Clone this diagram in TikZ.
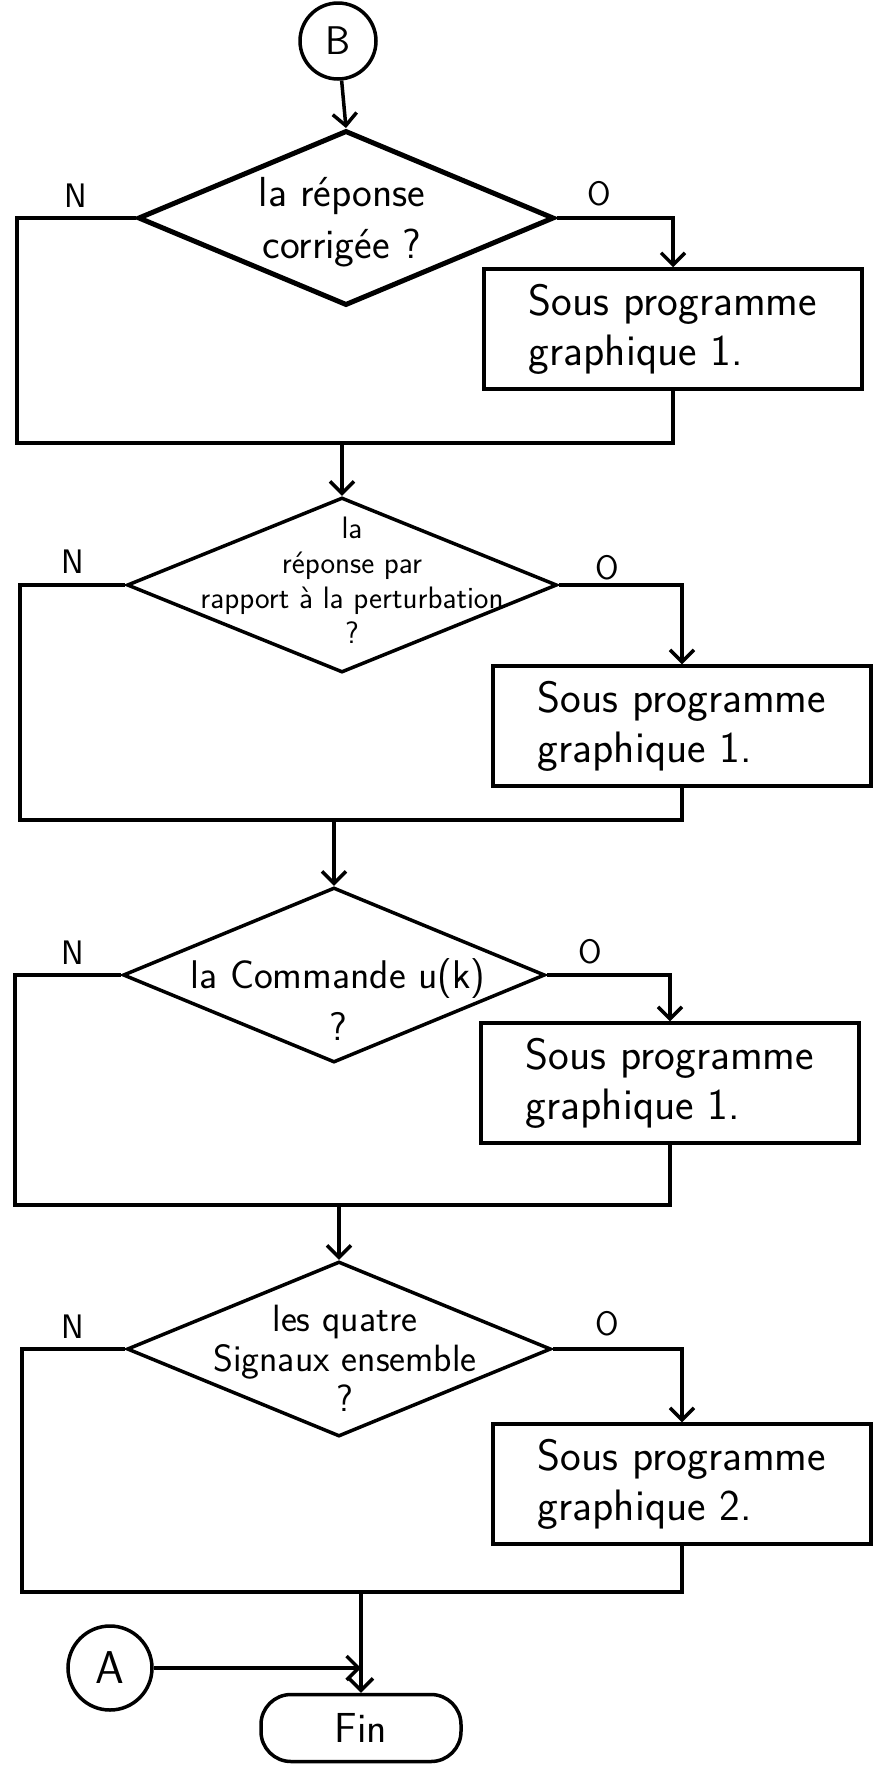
\documentclass[tikz,border=0pt]{standalone}
\usepackage{fontspec}
\usetikzlibrary{arrows.meta, positioning, shapes.geometric}
\tikzset{
  every picture/.style={font=\sffamily, line width=3.5pt},
  decision/.style={draw, shape=diamond, minimum width=#1, minimum height=175pt, inner sep=0pt},
  decision/.default=420pt,
  prog/.style={draw, rectangle, minimum width=378pt, minimum height=120pt, align=left, inner sep=0pt, font=\sffamily\fontsize{44}{50}\selectfont},
  qtext/.style={align=center, inner sep=0pt, font=\sffamily\fontsize{42}{52}\selectfont},
  conn/.style={draw, shape=circle, minimum size=#1, inner sep=0pt, font=\sffamily\fontsize{40}{48}\selectfont},
  conn/.default=76pt,
  term/.style={draw, rectangle, rounded corners=30pt, minimum width=200pt, minimum height=67pt, font=\sffamily\fontsize{42}{48}\selectfont},
  lbl/.style={font=\sffamily\fontsize{34}{38}\selectfont},
  arrow/.style={-{Straight Barb[length=12pt, width=24pt]}},
}
\begin{document}
\begin{tikzpicture}[x=1pt, y=-1pt]
  \useasboundingbox (0,0) rectangle (882,1773);
  \node[conn] (B) at (338,41) {B};
  % bloc 1 : la reponse corrigee
  \node[decision=416pt, line width=5pt] (d1) at (346,218) {};
  \node[qtext] (q1) at (342,222) {la réponse\\corrigée ?};
  \node[prog] (p1) at (673,329) {Sous programme\\graphique 1.};
  \node[lbl] (n1) at (76,196) {N};
  \node[lbl] (o1) at (599,194) {O};
  \coordinate (l1) at (17,443);
  \coordinate (r1) at (p1.south |- l1);
  \draw[arrow] (B) -- (d1.north);
  \draw[arrow] (d1.east) -| (p1.north);
  \draw (d1.west) -| (l1) -- (r1) -- (p1.south);
  % bloc 2 : la reponse par rapport a la perturbation
  \node[decision=430pt] (d2) at (342,585) {};
  \node[qtext, font=\sffamily\fontsize{31}{35}\selectfont] (q2) at (352,580) {la\\réponse par\\rapport à la perturbation\\?};
  \node[prog] (p2) at (682,726) {Sous programme\\graphique 1.};
  \node[lbl] (n2) at (73,562) {N};
  \node[lbl] (o2) at (607,568) {O};
  \coordinate (l2) at (20,820);
  \coordinate (r2) at (p2.south |- l2);
  \draw[arrow] (d2.north |- l1) -- (d2.north);
  \draw[arrow] (d2.east) -| (p2.north);
  \draw (d2.west) -| (l2) -- (r2) -- (p2.south);
  % bloc 3 : la commande u(k)
  \node[decision=422pt] (d3) at (334,975) {};
  \node[qtext, font=\sffamily\fontsize{40}{52}\selectfont] (q3) at (338,1000) {la Commande u(k)\\?};
  \node[prog] (p3) at (670,1083) {Sous programme\\graphique 1.};
  \node[lbl] (n3) at (73,953) {N};
  \node[lbl] (o3) at (590,952) {O};
  \coordinate (l3) at (15,1205);
  \coordinate (r3) at (p3.south |- l3);
  \draw[arrow] (d3.north |- l2) -- (d3.north);
  \draw[arrow] (d3.east) -| (p3.north);
  \draw (d3.west) -| (l3) -- (r3) -- (p3.south);
  % bloc 4 : les quatre signaux ensemble
  \node[decision=424pt] (d4) at (339,1349) {};
  \node[qtext, font=\sffamily\fontsize{38}{40}\selectfont] (q4) at (345,1358) {les quatre\\Signaux ensemble\\?};
  \node[prog] (p4) at (682,1484) {Sous programme\\graphique 2.};
  \node[lbl] (n4) at (73,1327) {N};
  \node[lbl] (o4) at (607,1324) {O};
  \coordinate (l4) at (22,1592);
  \coordinate (r4) at (p4.south |- l4);
  \draw[arrow] (d4.north |- l3) -- (d4.north);
  \draw[arrow] (d4.east) -| (p4.north);
  \draw (d4.west) -| (l4) -- (r4) -- (p4.south);
  % fin
  \node[term] (fin) at (361,1728) {Fin};
  \node[conn=84pt, font=\sffamily\fontsize{46}{50}\selectfont] (A) at (110,1668) {A};
  \coordinate (a4) at (fin.north |- A);
  \draw[arrow] (fin.north |- l4) -- (fin.north);
  \draw[arrow] (A) -- (a4);
\end{tikzpicture}
\end{document}
